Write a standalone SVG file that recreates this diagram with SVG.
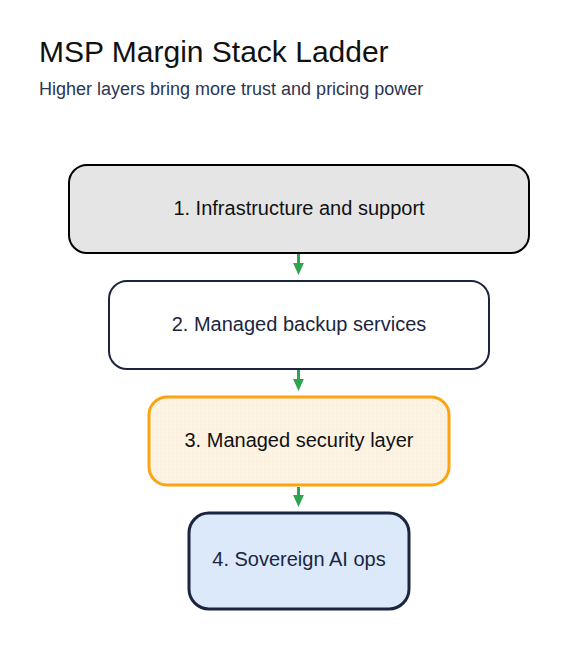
<svg xmlns="http://www.w3.org/2000/svg" width="570" height="651" viewBox="0 0 570 651">
<style>
text{font-family:"Liberation Sans",Arial,sans-serif}
.t{font-size:30px;fill:#111}
.s{font-size:18px;fill:#2a3552}
.n{font-size:20px;text-anchor:middle;dominant-baseline:central}
.c{stroke:#2ea44f;stroke-width:3;fill:none}
</style>
<defs>
<marker id="ah" markerWidth="4" markerHeight="4" refX="2" refY="2" orient="auto" markerUnits="strokeWidth" viewBox="0 0 4 4"><path d="M0,0.2L4,2L0,3.8z" fill="#2ea44f"/></marker>
<pattern id="dots" width="4" height="4" patternUnits="userSpaceOnUse"><rect width="4" height="4" fill="#fdf3e3"/><circle cx="1" cy="1" r="0.5" fill="#f2e2c6"/></pattern>
</defs>
<rect width="570" height="651" fill="#fff"/>
<text class="t" x="39" y="62">MSP Margin Stack Ladder</text>
<text class="s" x="39" y="95">Higher layers bring more trust and pricing power</text>
<g id="connectors">
<line class="c" x1="298.5" y1="254" x2="298.5" y2="269" marker-end="url(#ah)"/>
<line class="c" x1="298.5" y1="370" x2="298.5" y2="385" marker-end="url(#ah)"/>
<line class="c" x1="298.5" y1="487" x2="298.5" y2="501" marker-end="url(#ah)"/>
</g>
<g id="n1"><rect x="69" y="165" width="460" height="88" rx="18" fill="#e5e5e5" stroke="#000" stroke-width="2"/><text class="n" x="299" y="208" fill="#111">1. Infrastructure and support</text></g>
<g id="n2"><rect x="109" y="281" width="380" height="88" rx="18" fill="#fff" stroke="#1b2540" stroke-width="2"/><text class="n" x="299" y="324" fill="#1b2540">2. Managed backup services</text></g>
<g id="n3"><rect x="149" y="397" width="300" height="88" rx="18" fill="url(#dots)" stroke="#fca311" stroke-width="3"/><text class="n" x="299" y="440" fill="#111">3. Managed security layer</text></g>
<g id="n4"><rect x="189" y="513" width="220" height="96" rx="20" fill="#dce9fb" stroke="#1b2540" stroke-width="3"/><text class="n" x="299" y="559" fill="#1b2540">4. Sovereign AI ops</text></g>
</svg>
